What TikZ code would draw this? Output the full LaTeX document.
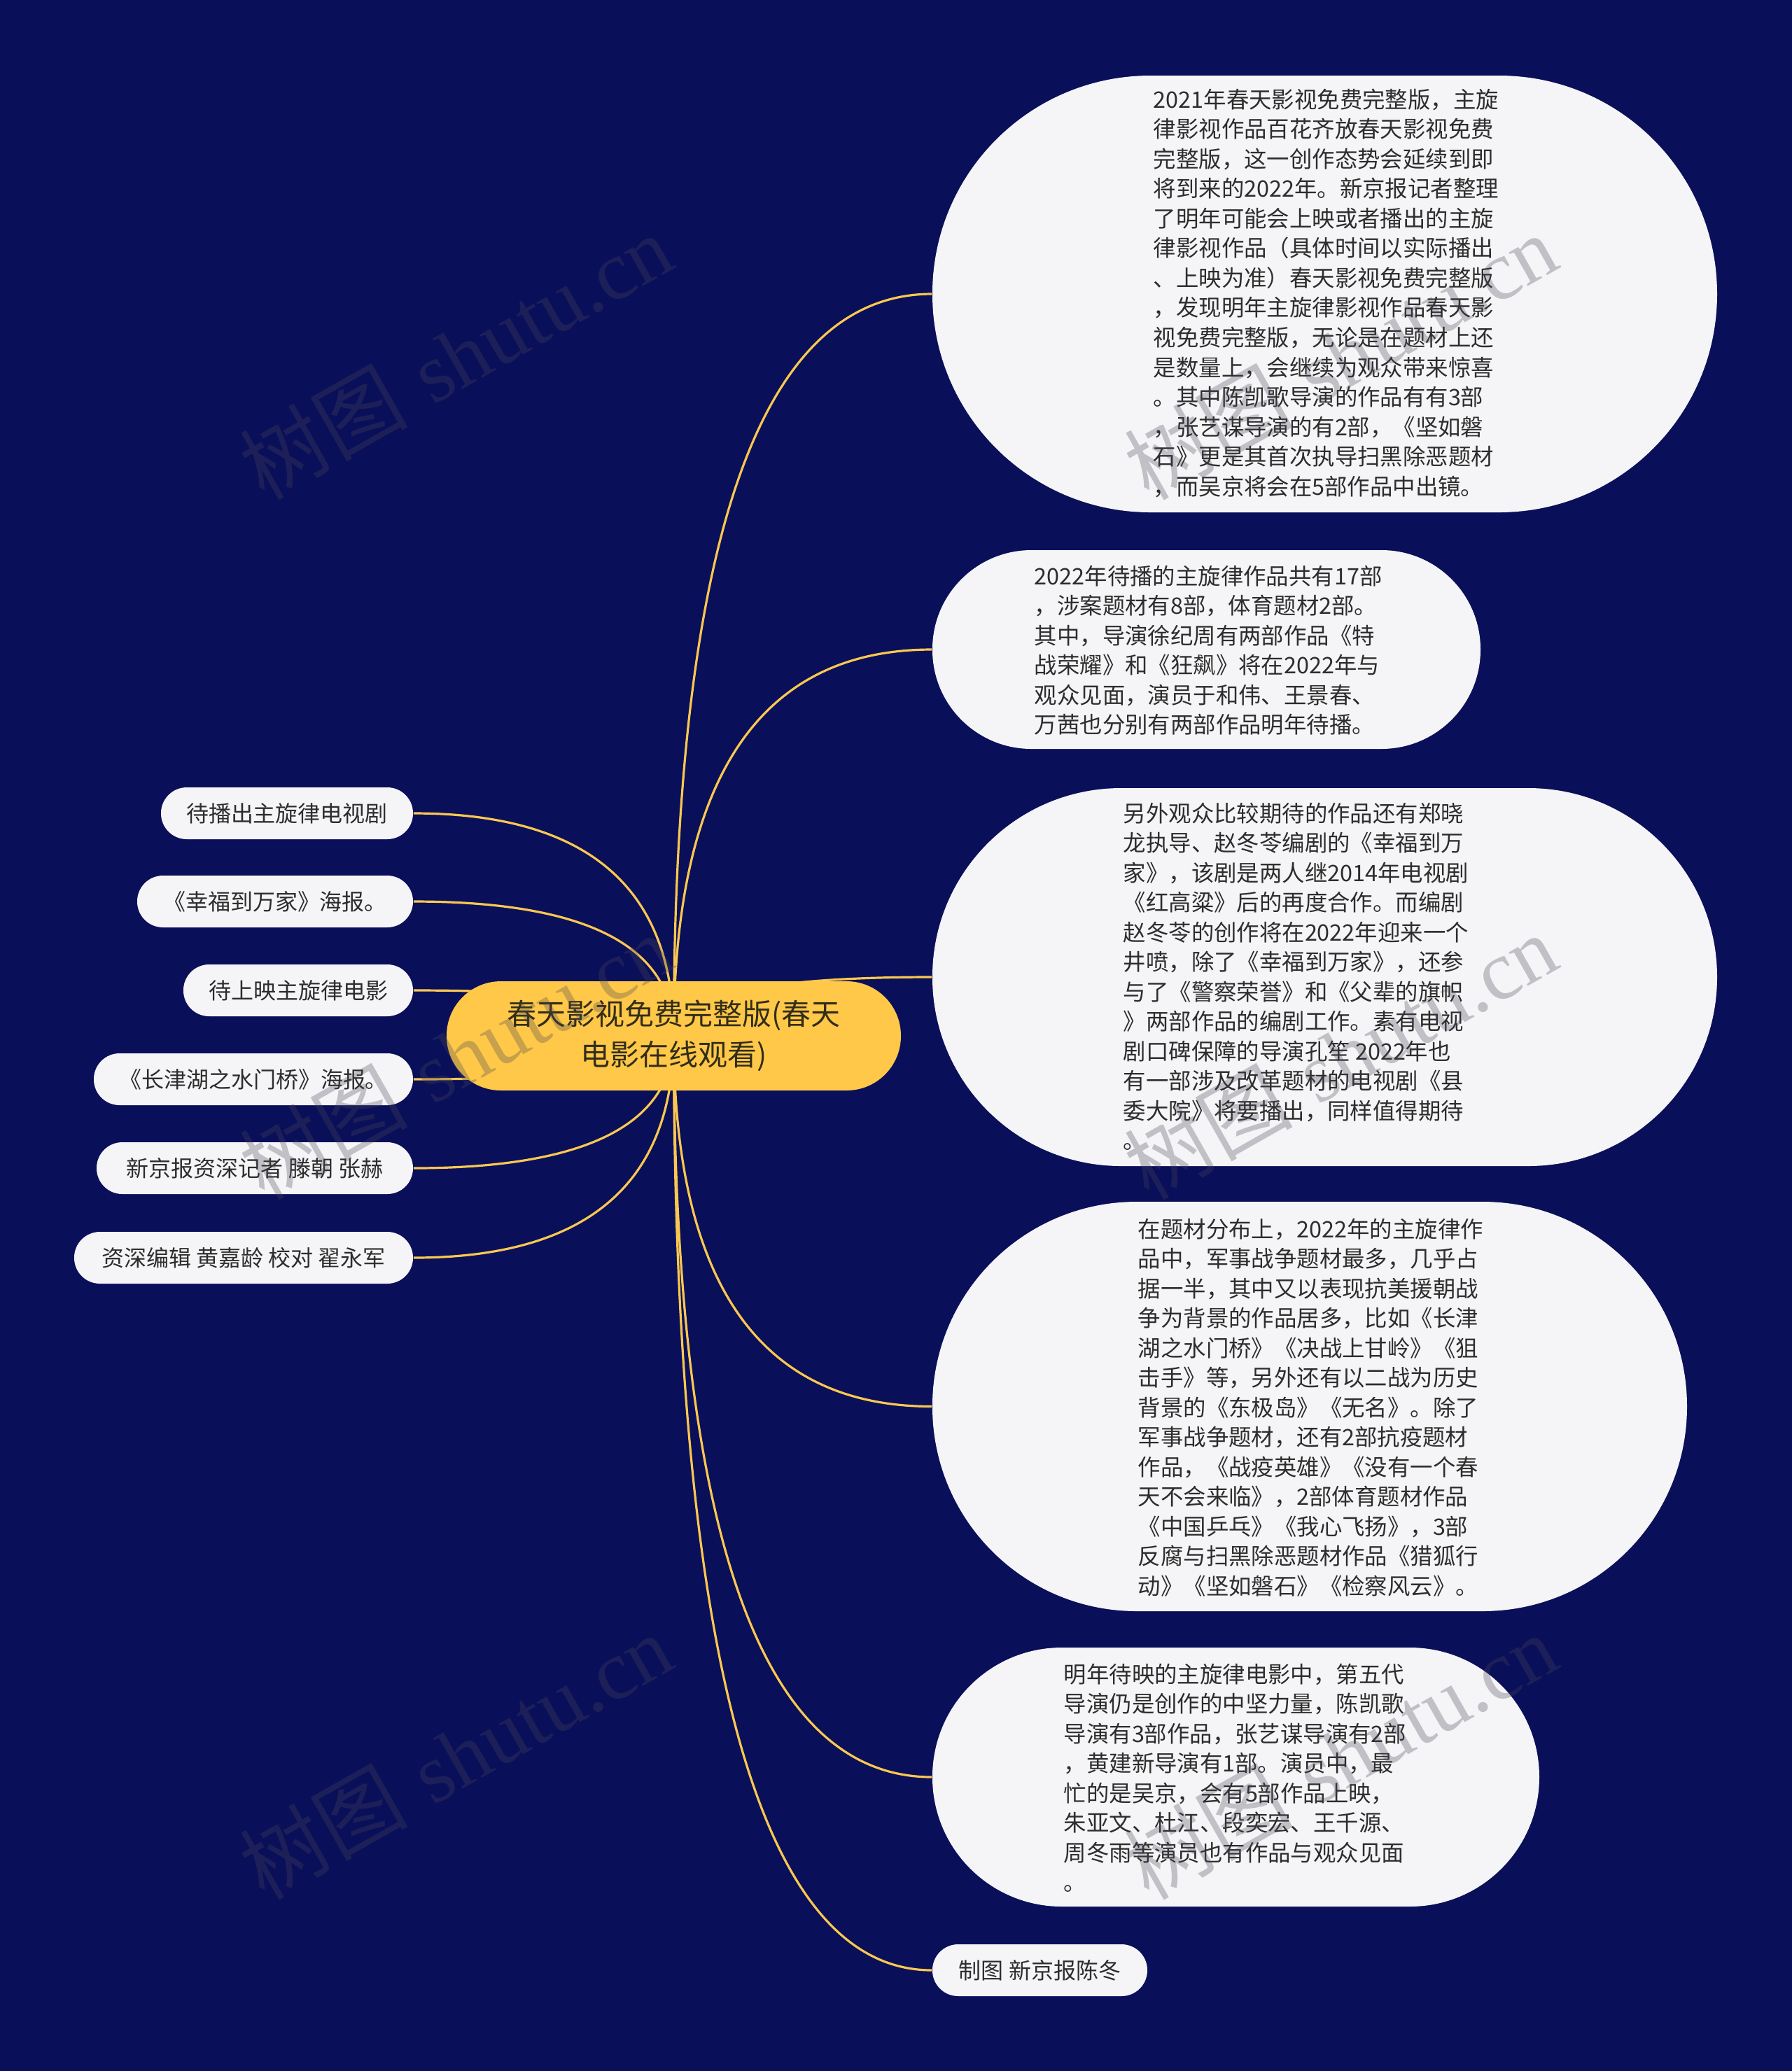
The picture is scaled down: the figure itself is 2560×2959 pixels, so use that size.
\documentclass[tikz,border=0pt]{standalone}
\usepackage{fontspec}
\usetikzlibrary{calc}
\newfontfamily\cjk{Noto Sans CJK SC}
\newfontfamily\wmserif{Liberation Serif}
\definecolor{navy}{RGB}{10,15,90}
\definecolor{rootgold}{RGB}{255,200,72}
\definecolor{linegold}{RGB}{250,200,80}
\definecolor{cardfill}{RGB}{245,245,247}
\definecolor{ink}{RGB}{45,45,45}
\definecolor{rootink}{RGB}{50,45,25}
\definecolor{wmgray}{RGB}{70,70,85}
\pgfdeclarelayer{bg}
\pgfdeclarelayer{wires}
\pgfdeclarelayer{fg}
\pgfsetlayers{bg,wires,main,fg}
\tikzset{
  card/.style={fill=cardfill, draw=none, rectangle, inner sep=0pt},
  leaf/.style={card, minimum height=18.5pt, rounded corners=9.2pt, align=center,
    text=ink, font=\cjk\fontsize{8}{10}\selectfont},
  bodytext/.style={anchor=north west, inner sep=0pt, align=left, text=ink,
    font=\cjk\fontsize{8.1}{10.63}\selectfont},
  link/.style={draw=linegold, line width=0.8pt},
  rootbox/.style={fill=rootgold, draw=none, rectangle, inner sep=0pt,
    rounded corners=19.4pt, minimum width=162.25pt, minimum height=39pt,
    align=center, text=rootink, font=\cjk\fontsize{10.5}{14.5}\selectfont},
  wm/.style={rotate=29.5, text=wmgray, opacity=0.3, inner sep=0pt,
    font=\fontsize{30}{30}\selectfont}
}
\begin{document}
\begin{tikzpicture}[x=0.25pt, y=-0.25pt]
\useasboundingbox (0,0) rectangle (2560,2959);
\begin{pgfonlayer}{bg}
  \fill[navy] (0,0) rectangle (2560,2959);
\end{pgfonlayer}

% central node
\node[rootbox] (root) at (962.5,1480) {春天影视免费完整版(春天\\电影在线观看)};

% right cards
\node[card, minimum width=280.25pt, minimum height=156pt, rounded corners=77.9pt] (r1) at (1892.5,420) {};
\node[card, minimum width=195.75pt, minimum height=71pt, rounded corners=35.4pt] (r2) at (1723.5,928) {};
\node[card, minimum width=280.25pt, minimum height=135pt, rounded corners=67.4pt] (r3) at (1892.5,1396) {};
\node[card, minimum width=269.5pt, minimum height=146.25pt, rounded corners=73pt] (r4) at (1871,2009.5) {};
\node[card, minimum width=216.75pt, minimum height=92.5pt, rounded corners=46.2pt] (r5) at (1765.5,2539) {};
\node[leaf, minimum width=76.75pt] (r6) at (1485.5,2815) {制图 新京报陈冬};

\node[bodytext] (t1) at (1647,126) {2021年春天影视免费完整版，主旋\\律影视作品百花齐放春天影视免费\\完整版，这一创作态势会延续到即\\将到来的2022年。新京报记者整理\\了明年可能会上映或者播出的主旋\\律影视作品（具体时间以实际播出\\、上映为准）春天影视免费完整版\\，发现明年主旋律影视作品春天影\\视免费完整版，无论是在题材上还\\是数量上，会继续为观众带来惊喜\\。其中陈凯歌导演的作品有有3部\\，张艺谋导演的有2部，《坚如磐\\石》更是其首次执导扫黑除恶题材\\，而吴京将会在5部作品中出镜。};
\node[bodytext] (t2) at (1477,807) {2022年待播的主旋律作品共有17部\\，涉案题材有8部，体育题材2部。\\其中，导演徐纪周有两部作品《特\\战荣耀》和《狂飙》将在2022年与\\观众见面，演员于和伟、王景春、\\万茜也分别有两部作品明年待播。};
\node[bodytext] (t3) at (1604,1146) {另外观众比较期待的作品还有郑晓\\龙执导、赵冬苓编剧的《幸福到万\\家》，该剧是两人继2014年电视剧\\《红高粱》后的再度合作。而编剧\\赵冬苓的创作将在2022年迎来一个\\井喷，除了《幸福到万家》，还参\\与了《警察荣誉》和《父辈的旗帜\\》两部作品的编剧工作。素有电视\\剧口碑保障的导演孔笙 2022年也\\有一部涉及改革题材的电视剧《县\\委大院》将要播出，同样值得期待\\。};
\node[bodytext] (t4) at (1625,1740) {在题材分布上，2022年的主旋律作\\品中，军事战争题材最多，几乎占\\据一半，其中又以表现抗美援朝战\\争为背景的作品居多，比如《长津\\湖之水门桥》《决战上甘岭》《狙\\击手》等，另外还有以二战为历史\\背景的《东极岛》《无名》。除了\\军事战争题材，还有2部抗疫题材\\作品，《战疫英雄》《没有一个春\\天不会来临》，2部体育题材作品\\《中国乒乓》《我心飞扬》，3部\\反腐与扫黑除恶题材作品《猎狐行\\动》《坚如磐石》《检察风云》。};
\node[bodytext] (t5) at (1519,2376) {明年待映的主旋律电影中，第五代\\导演仍是创作的中坚力量，陈凯歌\\导演有3部作品，张艺谋导演有2部\\，黄建新导演有1部。演员中，最\\忙的是吴京，会有5部作品上映，\\朱亚文、杜江、段奕宏、王千源、\\周冬雨等演员也有作品与观众见面\\。};

% left leaves
\node[leaf, minimum width=90pt]   (l1) at (410,1162) {待播出主旋律电视剧};
\node[leaf, minimum width=98.5pt] (l2) at (393,1288) {《幸福到万家》海报。};
\node[leaf, minimum width=82pt]   (l3) at (426,1415) {待上映主旋律电影};
\node[leaf, minimum width=114pt]  (l4) at (362,1542) {《长津湖之水门桥》海报。};
\node[leaf, minimum width=113pt]  (l5) at (364,1669) {新京报资深记者 滕朝 张赫};
\node[leaf, minimum width=121pt]  (l6) at (348,1797) {资深编辑 黄嘉龄 校对 翟永军};

% connectors
\begin{pgfonlayer}{wires}
\foreach \t in {r1.west,r2.west,r3.west,r4.west,r5.west,r6.west,l1.east,l2.east,l3.east,l4.east,l5.east,l6.east}{
  \coordinate (knee) at (root.center |- \t);
  \draw[link] (root.center) .. controls ($(root.center)!0.6667!(knee)$) and ($(\t)!0.6667!(knee)$) .. (\t);
}
\end{pgfonlayer}

% watermarks
\begin{pgfonlayer}{fg}
\node[wm] (wm1) at (651,509)  {{\cjk 树图} {\wmserif shutu.cn}};
\node[wm] (wm2) at (651,1509) {{\cjk 树图} {\wmserif shutu.cn}};
\node[wm] (wm3) at (651,2509) {{\cjk 树图} {\wmserif shutu.cn}};
\node[wm] (wm4) at (1915,509)  {{\cjk 树图} {\wmserif shutu.cn}};
\node[wm] (wm5) at (1915,1509) {{\cjk 树图} {\wmserif shutu.cn}};
\node[wm] (wm6) at (1915,2509) {{\cjk 树图} {\wmserif shutu.cn}};
\end{pgfonlayer}
\end{tikzpicture}
\end{document}
